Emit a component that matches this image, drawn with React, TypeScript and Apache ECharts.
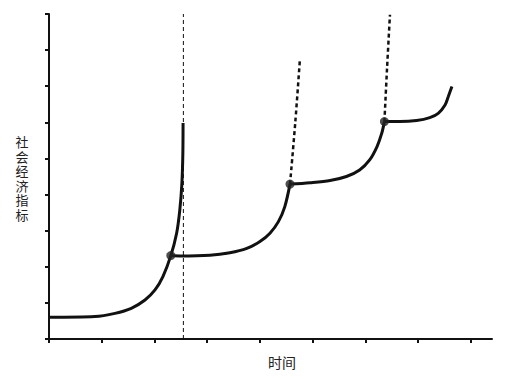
import React, { useEffect, useRef } from "react";
import * as echarts from "echarts";

// Tick values
const xTicks = [0, 1, 2, 3, 4, 5, 6, 7, 8];
const yTicks = [0, 1, 2, 3, 4, 5, 6, 7, 8, 9];

// Curve segments (solid)
const curve1: number[][] = [
  [0, 0.6], [0.87, 0.62], [1.25, 0.71], [1.56, 0.85], [1.82, 1.08], [2.01, 1.36],
  [2.16, 1.73], [2.31, 2.31], [2.42, 2.93], [2.48, 3.57], [2.52, 4.31], [2.538, 5.14], [2.542, 5.98],
];
const curve2: number[][] = [
  [2.31, 2.31], [2.48, 2.3], [3.05, 2.32], [3.43, 2.39], [3.75, 2.51], [4.0, 2.7],
  [4.19, 2.93], [4.35, 3.25], [4.47, 3.66], [4.57, 4.29],
];
const curve3: number[][] = [
  [4.57, 4.29], [4.95, 4.33], [5.33, 4.39], [5.64, 4.5], [5.89, 4.68], [6.08, 4.96],
  [6.22, 5.33], [6.31, 5.7], [6.36, 6.02],
];
const curve4: number[][] = [
  [6.36, 6.02], [6.65, 6.02], [6.97, 6.05], [7.22, 6.13], [7.38, 6.25], [7.51, 6.48],
  [7.57, 6.71], [7.64, 6.99],
];
// Dotted extensions
const dotted2: number[][] = [[4.57, 4.29], [4.67, 6.0], [4.757, 7.73]];
const dotted3: number[][] = [[6.36, 6.02], [6.41, 7.5], [6.465, 8.98]];
// Vertical dashed reference
const vline: number[][] = [[2.548, 0], [2.548, 9]];
// Transition points
const dots: number[][] = [[2.31, 2.31], [4.57, 4.29], [6.36, 6.02]];

const xAxisName = "时间";
const yAxisName = "社会经济指标";

export default function App() {
  const ref = useRef<HTMLDivElement>(null);
  useEffect(() => {
    if (!ref.current) return;
    const chart = echarts.init(ref.current, undefined, { renderer: "svg" });
    const ink = "#111";
    const solid = (data: number[][]) => ({
      type: "line",
      data,
      smooth: 0.3,
      showSymbol: false,
      symbol: "none",
      lineStyle: { color: ink, width: 3 },
      z: 3,
    });
    const dotted = (data: number[][]) => ({
      type: "line",
      data,
      smooth: 0.3,
      symbol: "none",
      lineStyle: { color: ink, width: 2.5, type: [4, 3] },
      z: 2,
    });
    const yChars = yAxisName.split("");
    const yNameGraphics = yChars.map((ch, i) => ({
      type: "text",
      x: 22,
      y: 178 + (i - (yChars.length - 1) / 2) * 14.6,
      style: {
        text: ch,
        font: '13px "Noto Sans CJK SC"',
        lineHeight: 14,
        fill: "#222",
        align: "center",
        verticalAlign: "middle",
      },
    }));
    chart.setOption({
      animation: false,
      backgroundColor: "#fff",
      grid: { left: 49, right: 23, top: 14, bottom: 40, containLabel: false },
      xAxis: {
        type: "value",
        min: 0,
        max: 8.4,
        interval: 1,
        axisLine: { show: true, lineStyle: { color: ink, width: 2 } },
        axisTick: { show: true, length: 4, lineStyle: { color: ink, width: 2 }, customValues: xTicks },
        axisLabel: { show: false },
        splitLine: { show: false },
      },
      yAxis: {
        type: "value",
        min: 0,
        max: 9,
        interval: 1,
        axisLine: { show: true, lineStyle: { color: ink, width: 2 } },
        axisTick: { show: true, length: 4, lineStyle: { color: ink, width: 2 }, customValues: yTicks },
        axisLabel: { show: false },
        splitLine: { show: false },
      },
      graphic: [
        {
          type: "text",
          x: 282,
          y: 362,
          style: {
            text: xAxisName,
            font: '14px "Noto Sans CJK SC"',
            fill: "#222",
            align: "center",
            verticalAlign: "middle",
          },
        },
        ...yNameGraphics,
      ],
      series: [
        {
          type: "line",
          data: vline,
          symbol: "none",
          lineStyle: { color: ink, width: 1, type: [4, 3] },
          z: 1,
        },
        solid(curve1),
        solid(curve2),
        solid(curve3),
        solid(curve4),
        dotted(dotted2),
        dotted(dotted3),
        {
          type: "scatter",
          data: dots,
          symbol: "circle",
          symbolSize: 9,
          itemStyle: { color: "#222" },
          z: 5,
        },
      ],
    });
    return () => chart.dispose();
  }, []);
  return <div ref={ref} style={{ position: "fixed", left: 0, top: 0, width: 515, height: 379 }} />;
}
